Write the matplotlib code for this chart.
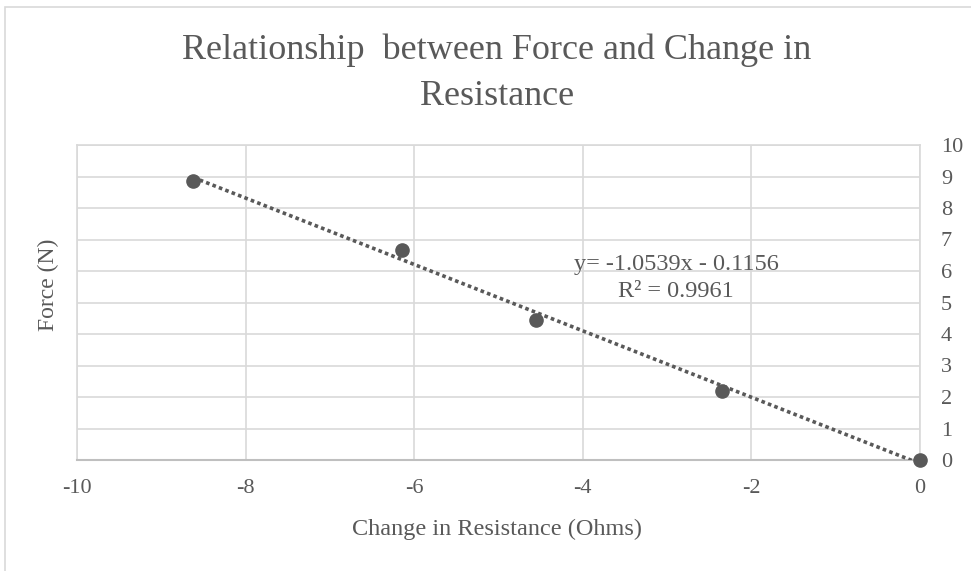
import matplotlib.pyplot as plt
import numpy as np
from matplotlib.patches import Rectangle

plt.rcParams['font.family'] = ['Liberation Serif', 'DejaVu Serif']
plt.rcParams['axes.unicode_minus'] = False

# values
resistance_change = [-8.62, -6.14, -4.56, -2.35, 0.0]
force = [8.85, 6.67, 4.45, 2.2, 0.0]
x_ticks = [-10, -8, -6, -4, -2, 0]
y_ticks = list(range(0, 11))
slope = -1.0539
intercept = -0.1156
r_squared = 0.9961

text_col = '#595959'
grid_col = '#d9d9d9'
W, H = 971, 571

fig = plt.figure(figsize=(9.71, 5.71), dpi=100)
fig.patches.append(Rectangle((5 / W, -0.1), 1.2, (H - 7) / H + 0.1,
                             transform=fig.transFigure, fill=False,
                             edgecolor='#d9d9d9', linewidth=1.2))

ax = fig.add_axes([77 / W, 111 / H, 843 / W, 315 / H])

# trendline
tx = np.array([min(resistance_change), max(resistance_change)])
ax.plot(tx, slope * tx + intercept, color=text_col, linewidth=2.6,
        linestyle=(0, (1, 0.9)), zorder=3)
ax.plot(resistance_change, force, 'o', color=text_col, markersize=9.5, zorder=4,
        clip_on=False)

ax.set_xlim(-10, 0)
ax.set_ylim(0, 10)
ax.set_xticks(x_ticks)
ax.set_yticks(y_ticks)
ax.yaxis.tick_right()
ax.tick_params(length=0, labelsize=16, colors=text_col)
ax.tick_params(axis='x', pad=14)
ax.tick_params(axis='y', pad=15)
ax.grid(True, color=grid_col, linewidth=1.2)
ax.set_axisbelow(True)
for side in ['top', 'right', 'left']:
    ax.spines[side].set_color(grid_col)
    ax.spines[side].set_linewidth(1.2)
ax.spines['bottom'].set_color('#bfbfbf')
ax.spines['bottom'].set_linewidth(1.5)

fig.text(497 / W, 1 - 535 / H, 'Change in Resistance (Ohms)', fontsize=17.5,
         color=text_col, ha='center', va='baseline')
fig.text(48 / W, 1 - 285 / H, 'Force (N)', rotation=90, fontsize=17,
         color=text_col, ha='center', va='center')

fig.text(497 / W, 1 - 59 / H, 'Relationship  between Force and Change in',
         fontsize=26, color=text_col, ha='center', va='baseline')
fig.text(497 / W, 1 - 105 / H, 'Resistance',
         fontsize=26, color=text_col, ha='center', va='baseline')

ax.text(-2.895, 6.03, 'y= %.4fx - %.4f' % (slope, -intercept),
        fontsize=17.5, color=text_col, ha='center', va='baseline')
ax.text(-2.895, 5.17, 'R² = %.4f' % r_squared,
        fontsize=17.5, color=text_col, ha='center', va='baseline')

fig.savefig('out.png', dpi=100, facecolor='white')
